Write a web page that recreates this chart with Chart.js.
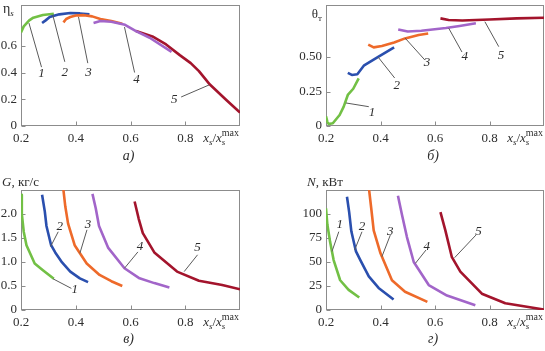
<!DOCTYPE html>
<html><head><meta charset="utf-8">
<script src="https://cdn.jsdelivr.net/npm/chart.js@4/dist/chart.umd.min.js"></script>
<style>
html,body{margin:0;padding:0;background:#fff;}
body{width:545px;height:351px;position:relative;overflow:hidden;}
canvas{position:absolute;}
</style></head><body>
<canvas id="ca" width="272" height="175" style="left:0;top:0;width:272px;height:175px"></canvas>
<canvas id="cb" width="273" height="175" style="left:272px;top:0;width:273px;height:175px"></canvas>
<canvas id="cc" width="272" height="176" style="left:0;top:175px;width:272px;height:176px"></canvas>
<canvas id="cd" width="273" height="176" style="left:272px;top:175px;width:273px;height:176px"></canvas>
<script>
// ---------- data ----------
const curveNames = ["1","2","3","4","5"];
const xTicks = [0.2, 0.4, 0.6, 0.8];
const xTickLabels = ["0.2", "0.4", "0.6", "0.8"];

// a) efficiency eta_s vs x_s/x_s^max
const eta1 = [[0.2,0.70],[0.21,0.745],[0.23,0.79],[0.245,0.81],[0.28,0.83],[0.32,0.84]];
const eta2 = [[0.277,0.77],[0.29,0.79],[0.305,0.815],[0.34,0.835],[0.38,0.845],[0.415,0.842],[0.45,0.835]];
const eta3 = [[0.355,0.775],[0.365,0.80],[0.38,0.815],[0.40,0.826],[0.43,0.829],[0.46,0.82],[0.49,0.80],[0.53,0.785],[0.57,0.765]];
const eta4 = [[0.465,0.77],[0.49,0.785],[0.53,0.78],[0.58,0.757],[0.62,0.71],[0.67,0.66],[0.75,0.555]];
const eta5 = [[0.62,0.71],[0.68,0.67],[0.73,0.61],[0.78,0.53],[0.82,0.47],[0.85,0.41],[0.89,0.31],[0.95,0.195],[1.0,0.10]];
const etaTicks = [0, 0.2, 0.4, 0.6];
const etaTickLabels = ["0", "0.2", "0.4", "0.6"];

// б) theta_T
const th1 = [[0.2,0.07],[0.205,0.03],[0.21,0.015],[0.225,0.02],[0.25,0.08],[0.265,0.14],[0.28,0.225],[0.3,0.27],[0.32,0.345]];
const th2 = [[0.28,0.385],[0.295,0.37],[0.315,0.375],[0.34,0.44],[0.39,0.50],[0.45,0.57]];
const th3 = [[0.355,0.59],[0.375,0.57],[0.405,0.58],[0.45,0.605],[0.49,0.635],[0.54,0.66],[0.575,0.67]];
const th4 = [[0.465,0.70],[0.50,0.685],[0.55,0.69],[0.64,0.71],[0.69,0.725],[0.75,0.745]];
const th5 = [[0.62,0.78],[0.65,0.768],[0.7,0.765],[0.8,0.772],[0.9,0.78],[1.0,0.785]];
const thTicks = [0, 0.25, 0.5];
const thTickLabels = ["0", "0.25", "0.50"];

// в) G, кг/с
const g1 = [[0.2,2.4],[0.203,2.0],[0.21,1.63],[0.22,1.35],[0.25,0.97],[0.28,0.83],[0.32,0.65]];
const g2 = [[0.277,2.4],[0.287,2.05],[0.293,1.75],[0.31,1.35],[0.325,1.2],[0.35,0.99],[0.38,0.8],[0.415,0.66],[0.445,0.58]];
const g3 = [[0.354,2.55],[0.362,2.15],[0.372,1.8],[0.396,1.35],[0.44,0.97],[0.487,0.73],[0.53,0.6],[0.57,0.5]];
const g4 = [[0.461,2.42],[0.473,2.12],[0.485,1.75],[0.518,1.3],[0.578,0.87],[0.633,0.66],[0.687,0.56],[0.742,0.47]];
const g5 = [[0.615,2.26],[0.63,1.9],[0.645,1.6],[0.687,1.2],[0.77,0.8],[0.85,0.61],[0.935,0.52],[1.0,0.43]];
const gTicks = [0, 0.5, 1.0, 1.5, 2.0];
const gTickLabels = ["0", "0.5", "1.0", "1.5", "2.0"];

// г) N, кВт
const n1 = [[0.2,106],[0.205,89],[0.215,71],[0.228,52],[0.252,31],[0.283,21],[0.322,13]];
const n2 = [[0.277,118],[0.285,102],[0.293,82],[0.31,61],[0.326,52],[0.357,35],[0.393,23],[0.448,11]];
const n3 = [[0.357,128],[0.366,106],[0.375,83],[0.40,59],[0.442,31],[0.49,19],[0.572,8.5]];
const n4 = [[0.464,119],[0.479,99],[0.497,76],[0.522,50],[0.577,26],[0.644,15],[0.748,5]];
const n5 = [[0.62,102],[0.638,83],[0.662,55],[0.693,40],[0.772,17],[0.858,7],[1.0,0.5]];
const nTicks = [0, 25, 50, 75, 100];
const nTickLabels = ["0", "25", "50", "75", "100"];

// leader-line callouts, in data units: [label x, label y, line x1, y1, x2, y2]
const calloutsA = [[0.275,0.39,0.229,0.77,0.275,0.44],[0.36,0.40,0.316,0.83,0.36,0.48],[0.447,0.40,0.41,0.816,0.444,0.47],[0.622,0.35,0.578,0.74,0.615,0.40],[0.76,0.195,0.785,0.217,0.887,0.307]];
const calloutsB = [[0.369,0.094,0.273,0.167,0.357,0.14],[0.46,0.29,0.391,0.50,0.452,0.348],[0.571,0.457,0.49,0.638,0.563,0.478],[0.709,0.50,0.65,0.71,0.699,0.536],[0.842,0.514,0.783,0.756,0.834,0.575]];
const calloutsC = [[0.396,0.42,0.317,0.65,0.384,0.45],[0.342,1.74,0.308,1.32,0.336,1.63],[0.445,1.78,0.415,1.18,0.441,1.67],[0.635,1.32,0.578,0.87,0.627,1.21],[0.845,1.30,0.796,0.8,0.845,1.15]];
const calloutsD = [[0.25,88.5,0.222,61,0.247,81.6],[0.332,87,0.305,62.5,0.332,81.5],[0.436,82,0.405,55.5,0.436,78],[0.57,66,0.528,48.6,0.567,62.5],[0.76,81.6,0.672,54.5,0.75,78]];

// ---------- styles ----------
const COLORS = ["#72c045", "#2a4fae", "#ee6a2a", "#a265c9", "#a3142c"];
const ORDER = [5, 4, 3, 1, 2];
const SERIF = '"Liberation Serif", "Times New Roman", serif';
const f = (size, it) => (it ? "italic " : "") + size + "px " + SERIF;
const TEXT = "#2e2e2e";

function drawRich(ctx, x, y, parts, align) {
  let pos = 0, prevStart = 0;
  const placed = parts.map(p => {
    ctx.font = p.f;
    const w = ctx.measureText(p.t).width;
    const px = p.stack ? prevStart : pos;
    prevStart = px;
    pos = Math.max(pos, px + w);
    return Object.assign({}, p, {px});
  });
  const start = align === "right" ? x - pos : align === "center" ? x - pos / 2 : x;
  ctx.textAlign = "left";
  ctx.textBaseline = "alphabetic";
  placed.forEach(p => { ctx.font = p.f; ctx.fillText(p.t, start + p.px, y + (p.dy || 0)); });
}

const xTitleParts = [
  {t:"x", f:f(13,1)}, {t:"s", f:f(9,1), dy:3}, {t:"/", f:f(13)},
  {t:"x", f:f(13,1)}, {t:"s", f:f(9,1), dy:3}, {t:"max", f:f(10), dy:-6, stack:true}
];

const panelPlugin = {
  id: "panel",
  beforeDatasetsDraw(chart) {
    const cfg = chart.options.plugins.panel;
    const {ctx, chartArea: a, scales: {x, y}} = chart;
    ctx.save();
    ctx.strokeStyle = "#8c8c8c";
    ctx.lineWidth = 1;
    const L = Math.round(a.left) + 0.5, R = Math.round(a.right) - 0.5, T = Math.round(a.top) + 0.5, B = Math.round(a.bottom) - 0.5;
    ctx.strokeRect(L, T, R - L, B - T);
    ctx.beginPath();
    xTicks.forEach(v => { const px = Math.round(x.getPixelForValue(v)) + 0.5; ctx.moveTo(px, B); ctx.lineTo(px, B - 4); });
    cfg.yTicks.forEach(v => { const py = Math.round(y.getPixelForValue(v)) + 0.5; ctx.moveTo(L, py); ctx.lineTo(L + 4, py); });
    ctx.stroke();
    ctx.restore();
  },
  afterDraw(chart) {
    const cfg = chart.options.plugins.panel;
    const {ctx, chartArea: a, scales: {x, y}} = chart;
    ctx.save();
    ctx.strokeStyle = "#5a5a5a";
    ctx.lineWidth = 1;
    cfg.callouts.forEach((c, i) => {
      ctx.beginPath();
      ctx.moveTo(x.getPixelForValue(c[2]), y.getPixelForValue(c[3]));
      ctx.lineTo(x.getPixelForValue(c[4]), y.getPixelForValue(c[5]));
      ctx.stroke();
      ctx.fillStyle = TEXT;
      ctx.font = f(13, 1);
      ctx.textAlign = "center";
      ctx.textBaseline = "middle";
      ctx.fillText(curveNames[i], x.getPixelForValue(c[0]), y.getPixelForValue(c[1]));
    });
    ctx.fillStyle = TEXT;
    drawRich(ctx, a.right - 1, a.bottom + 16, xTitleParts, "right");
    drawRich(ctx, cfg.yTitleX, cfg.yTitleY, cfg.yTitle, cfg.yTitleAlign);
    drawRich(ctx, (a.left + a.right) / 2 - 2, a.bottom + cfg.letterDy, [{t:cfg.letter, f:f(14,1)}], "center");
    ctx.restore();
  }
};

function noPad(s) { s.paddingTop = 0; s.paddingBottom = 0; s.paddingLeft = 0; s.paddingRight = 0; }

function makePanel(id, cfg) {
  const toXY = s => s.map(p => ({x: p[0], y: p[1]}));
  return new Chart(document.getElementById(id), {
    type: "line",
    data: {
      datasets: cfg.series.map((s, i) => ({
        label: curveNames[i], data: toXY(s), borderColor: COLORS[i], backgroundColor: COLORS[i],
        borderWidth: 2.6, pointRadius: 0, tension: 0, fill: false, order: ORDER[i],
        borderCapStyle: "butt", borderJoinStyle: "round"
      }))
    },
    options: {
      responsive: false, animation: false, devicePixelRatio: 1, events: [],
      layout: {padding: cfg.pad},
      plugins: {legend: {display: false}, tooltip: {enabled: false}, panel: cfg},
      scales: {
        x: {
          type: "linear", min: 0.2, max: 1.0,
          afterBuildTicks: s => { s.ticks = xTicks.map(v => ({value: v})); },
          afterFit: s => { s.height = cfg.xHeight; noPad(s); },
          ticks: {autoSkip: false, maxRotation: 0, padding: 5, color: TEXT, font: {family: SERIF, size: 13},
                  callback: v => xTickLabels[xTicks.indexOf(v)]},
          grid: {display: false, drawTicks: false}, border: {display: false}
        },
        y: {
          type: "linear", min: cfg.yMin, max: cfg.yMax,
          afterBuildTicks: s => { s.ticks = cfg.yTicks.map(v => ({value: v})); },
          afterFit: s => { s.width = cfg.yWidth; noPad(s); },
          ticks: {autoSkip: false, padding: 4, color: TEXT, font: {family: SERIF, size: 13},
                  callback: v => cfg.yTickLabels[cfg.yTicks.indexOf(v)]},
          grid: {display: false, drawTicks: false}, border: {display: false}
        }
      }
    },
    plugins: [panelPlugin]
  });
}

makePanel("ca", {
  series: [eta1, eta2, eta3, eta4, eta5], callouts: calloutsA,
  pad: {left: 0, right: 32, top: 5, bottom: 0}, yWidth: 21, xHeight: 49,
  yMin: 0, yMax: 0.905, yTicks: etaTicks, yTickLabels: etaTickLabels,
  yTitle: [{t:"η", f:f(14)}, {t:"s", f:f(9,1), dy:3}], yTitleX: 3, yTitleY: 13, yTitleAlign: "left",
  letter: "а)", letterDy: 34
});
makePanel("cb", {
  series: [th1, th2, th3, th4, th5], callouts: calloutsB,
  pad: {left: 0, right: 1, top: 5, bottom: 0}, yWidth: 54, xHeight: 49,
  yMin: 0, yMax: 0.877, yTicks: thTicks, yTickLabels: thTickLabels,
  yTitle: [{t:"θ", f:f(13)}, {t:"т", f:f(9), dy:3}], yTitleX: 50, yTitleY: 18, yTitleAlign: "right",
  letter: "б)", letterDy: 34
});
makePanel("cc", {
  series: [g1, g2, g3, g4, g5], callouts: calloutsC,
  pad: {left: 0, right: 32, top: 15, bottom: 0}, yWidth: 21, xHeight: 41,
  yMin: 0, yMax: 2.5, yTicks: gTicks, yTickLabels: gTickLabels,
  yTitle: [{t:"G", f:f(13,1)}, {t:", кг/с", f:f(13)}], yTitleX: 2, yTitleY: 11, yTitleAlign: "left",
  letter: "в)", letterDy: 33
});
makePanel("cd", {
  series: [n1, n2, n3, n4, n5], callouts: calloutsD,
  pad: {left: 0, right: 1, top: 15, bottom: 0}, yWidth: 54, xHeight: 41,
  yMin: 0, yMax: 125, yTicks: nTicks, yTickLabels: nTickLabels,
  yTitle: [{t:"N", f:f(13,1)}, {t:", кВт", f:f(13)}], yTitleX: 35, yTitleY: 11, yTitleAlign: "left",
  letter: "г)", letterDy: 33
});
</script>
</body></html>
